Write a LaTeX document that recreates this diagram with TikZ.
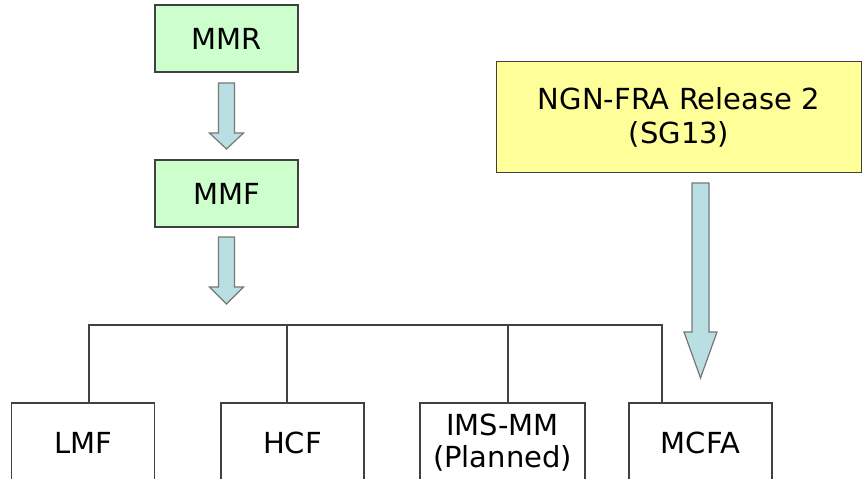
\documentclass[tikz,border=0pt]{standalone}
\usepackage{fontspec}
\setmainfont{DejaVu Sans}
\usetikzlibrary{calc}
\definecolor{boxgreen}{HTML}{CCFFCC}
\definecolor{boxyellow}{HTML}{FFFF99}
\definecolor{arrowfill}{HTML}{B9DFE3}
\definecolor{arrowline}{HTML}{777777}
\definecolor{boxline}{HTML}{404040}
\begin{document}
\begin{tikzpicture}[x=1pt,y=-1pt,
  every node/.style={font=\fontsize{29}{32}\selectfont, text=black, align=center, inner sep=0pt},
  topbox/.style={draw=boxline, line width=1.2pt, fill=boxgreen, minimum width=143pt, minimum height=67pt},
  ngnbox/.style={draw=boxline, line width=1.2pt, fill=boxyellow, minimum width=365pt, minimum height=111pt, font=\fontsize{29}{34}\selectfont},
  leafbox/.style={draw=boxline, line width=1.2pt, fill=white, minimum width=143pt, minimum height=80pt},
  fat/.style={draw=arrowline, line width=1.2pt, fill=arrowfill, line join=miter},
  tree/.style={draw=boxline, line width=1.2pt}]
\useasboundingbox (0,0) rectangle (862,479);
\clip (0,0) rectangle (862,479);
\fill[white] (0,0) rectangle (862,479);

\node[topbox] (mmr) at (226.5,38.5) {MMR};
\node[topbox] (mmf) at (226.5,193.5) {MMF};
\node[ngnbox] (ngn) at (679,117) {NGN-FRA Release 2\\(SG13)};

\node[leafbox] (lmf) at (83,443) {LMF};
\node[leafbox] (hcf) at (292.5,443) {HCF};
\node[leafbox, minimum width=165pt] (ims) at (502.5,443) {IMS-MM\\(Planned)};
\node[leafbox] (mcfa) at (700.5,443) {MCFA};

% block arrows
\coordinate (a1) at (226.5,72);
\draw[fat] ($(a1)+(-8,11)$) -- ($(a1)+(-8,61)$) -- ($(a1)+(-17,61)$)
  -- ($(a1)+(0,77)$) -- ($(a1)+(17,61)$) -- ($(a1)+(8,61)$) -- ($(a1)+(8,11)$) -- cycle;
\coordinate (a2) at (226.5,227);
\draw[fat] ($(a2)+(-8,10)$) -- ($(a2)+(-8,60)$) -- ($(a2)+(-17,60)$)
  -- ($(a2)+(0,77)$) -- ($(a2)+(17,60)$) -- ($(a2)+(8,60)$) -- ($(a2)+(8,10)$) -- cycle;
\coordinate (a3) at (700.5,172);
\draw[fat] ($(a3)+(-8.5,11)$) -- ($(a3)+(-8.5,160)$) -- ($(a3)+(-16.5,160)$)
  -- ($(a3)+(0,206)$) -- ($(a3)+(16.5,160)$) -- ($(a3)+(8.5,160)$) -- ($(a3)+(8.5,11)$) -- cycle;

% tree connectors
\coordinate (j1) at (89,325);
\coordinate (j2) at (287,325);
\coordinate (j3) at (508,325);
\coordinate (j4) at (662,325);
\draw[tree] (j1 |- lmf.north) -- (j1) -- (j4) -- (j4 |- mcfa.north);
\draw[tree] (j2) -- (j2 |- hcf.north);
\draw[tree] (j3) -- (j3 |- ims.north);
\end{tikzpicture}
\end{document}
